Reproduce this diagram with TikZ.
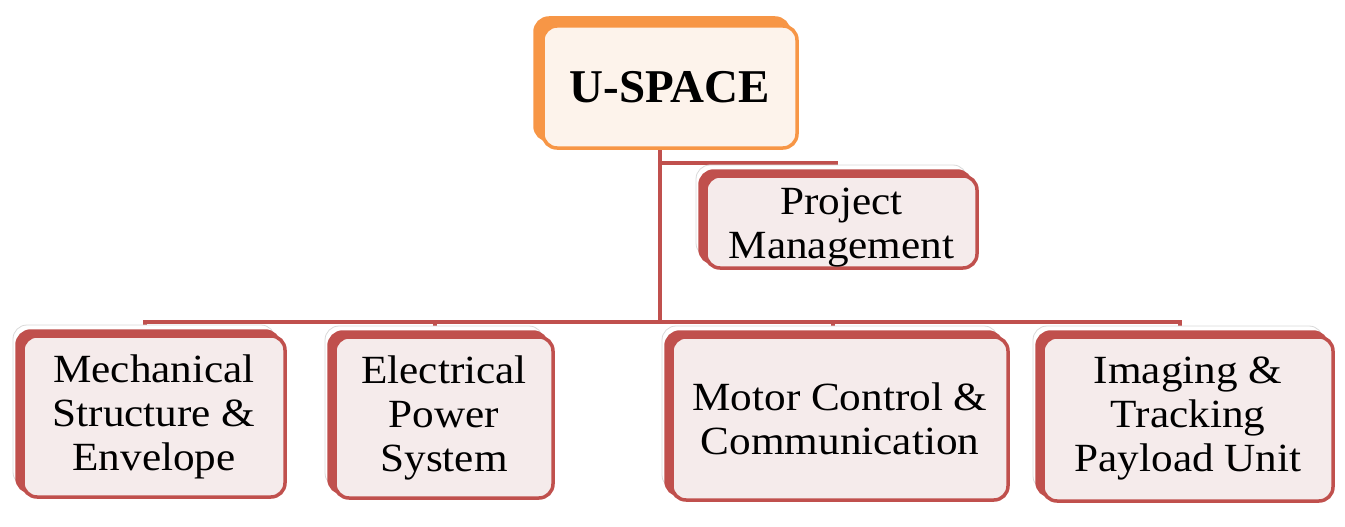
\documentclass[tikz,border=0pt]{standalone}
\usepackage{fontspec}
\setmainfont{Liberation Serif}[FakeStretch=1.08]
\newfontfamily\titlefont{Liberation Serif}
\usetikzlibrary{shadows}
\definecolor{accred}{HTML}{C0504D}
\definecolor{accorange}{HTML}{F79646}
\definecolor{redfill}{HTML}{F5EBEB}
\definecolor{orangefill}{HTML}{FDF3EB}
\pgfdeclarelayer{background}
\pgfsetlayers{background,main}
\tikzset{
  conn/.style={draw=accred, line width=4pt, line cap=rect},
  childbox/.style={rounded corners=14pt, draw=accred, line width=3.5pt, fill=redfill,
    align=center, text=black, font=\fontsize{40}{44}\selectfont, inner sep=0pt,
    general shadow={draw=gray!30, line width=0.8pt, fill=white, shadow xshift=-10pt, shadow yshift=11pt},
    general shadow={fill=accred, draw=accred, shadow xshift=-6pt, shadow yshift=5pt}},
  rootbox/.style={rounded corners=14pt, draw=accorange, line width=3.5pt, fill=orangefill,
    align=center, text=black, font=\titlefont\bfseries\fontsize{47}{54}\selectfont, inner sep=0pt,
    general shadow={fill=accorange, draw=accorange, shadow xshift=-8pt, shadow yshift=8pt}}
}
\begin{document}
\begin{tikzpicture}[x=1pt,y=-1pt]
\useasboundingbox (0,0) rectangle (1345,527);
\node[rootbox, minimum width=254pt, minimum height=122pt] (root) at (670,87) {U-SPACE};
\node[childbox, minimum width=271pt, minimum height=92pt] (pm) at (841.5,222) {\raisebox{-6pt}[\height][\depth]{\begin{tabular}{@{}c@{}}Project\\Management\end{tabular}}};
\node[childbox, minimum width=262pt, minimum height=161pt] (b1) at (154,416.5) {Mechanical\\Structure \&\\Envelope};
\node[childbox, minimum width=218pt, minimum height=161pt] (b2) at (444,417.5) {Electrical\\Power\\System};
\node[childbox, minimum width=336pt, minimum height=163pt] (b3) at (840,418.5) {Motor Control \&\\Communication};
\node[childbox, minimum width=290pt, minimum height=164pt] (b4) at (1188,419) {Imaging \&\\Tracking\\Payload Unit};
\coordinate (bus) at (660,322);
\coordinate (pmj) at (660,163);
\begin{pgfonlayer}{background}
\draw[conn] (root.south -| bus) -- (bus);
\draw[conn] (pmj) -| ([xshift=-6pt]pm.north);
\draw[conn] ([xshift=-9pt]b1.north |- bus) -- ([xshift=-8pt]b4.north |- bus);
\draw[conn] ([xshift=-9pt]b1.north |- bus) -- ([xshift=-9pt]b1.north);
\draw[conn] ([xshift=-9pt]b2.north |- bus) -- ([xshift=-9pt]b2.north);
\draw[conn] ([xshift=-7pt]b3.north |- bus) -- ([xshift=-7pt]b3.north);
\draw[conn] ([xshift=-8pt]b4.north |- bus) -- ([xshift=-8pt]b4.north);
\end{pgfonlayer}
\end{tikzpicture}
\end{document}
